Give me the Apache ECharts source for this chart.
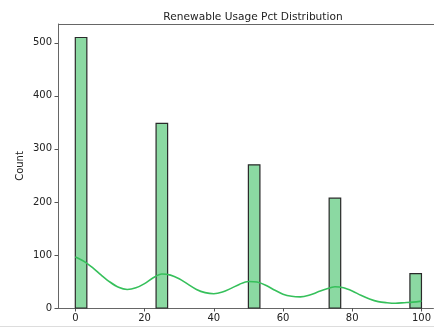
<!DOCTYPE html>
<html>
<head>
<meta charset="utf-8">
<script src="https://cdn.jsdelivr.net/npm/echarts@6/dist/echarts.min.js"></script>
<style>html,body{margin:0;padding:0;background:#fff}#c{width:434px;height:329px}</style>
</head>
<body>
<div id="c"></div>
<script>
// Histogram bins (left edge, right edge, count)
var binLeft = [0, 23.333, 50, 73.333, 96.667];
var binRight = [3.333, 26.667, 53.333, 76.667, 100];
var counts = [510, 348, 270, 207, 65];
// KDE curve
var kdeX = [0, 2.5, 5, 7.5, 10, 12.5, 15, 17.5, 20, 22.5, 25, 27.5, 30, 32.5, 35, 37.5, 40, 42.5, 45, 47.5, 50, 52.5, 55, 57.5, 60, 62.5, 65, 67.5, 70, 72.5, 75, 77.5, 80, 82.5, 85, 87.5, 90, 92.5, 95, 97.5, 100];
var kdeY = [96, 88, 76, 62, 49, 39, 35, 38, 46, 57, 64, 62, 55, 45, 35, 29, 27, 30, 37, 45, 50, 49, 43, 34, 26, 22, 21, 24, 30, 36, 40, 38, 32, 24, 17, 12, 10, 9, 10, 11, 13];
var xTicks = [0, 20, 40, 60, 80, 100];
var yTicks = [0, 100, 200, 300, 400, 500];

var chart = echarts.init(document.getElementById('c'), null, {renderer: 'canvas'});
var barData = binLeft.map(function (l, i) { return [l, binRight[i], counts[i]]; });
var kdeData = kdeX.map(function (x, i) { return [x, kdeY[i]]; });
var font = 'DejaVu Sans';
chart.setOption({
  animation: false,
  title: {
    text: 'Renewable Usage Pct Distribution',
    left: 248, top: 7, textAlign: 'center',
    textStyle: {fontFamily: font, fontSize: 10.6, fontWeight: 'normal', color: '#222'}
  },
  grid: {left: 58, right: 0, top: 24, bottom: 21},
  xAxis: {
    type: 'value', min: -5, max: 103.46,
    splitLine: {show: false},
    axisLine: {show: true, onZero: false, lineStyle: {color: '#666', width: 1}},
    axisTick: {show: true, length: 3.5, customValues: xTicks, lineStyle: {color: '#555'}},
    axisLabel: {customValues: xTicks, fontFamily: font, fontSize: 10, color: '#222', margin: 5}
  },
  yAxis: {
    type: 'value', min: 0, max: 535.5,
    name: 'Count', nameLocation: 'middle', nameGap: 33, nameRotate: 90,
    nameMoveOverlap: false,
    nameTextStyle: {fontFamily: font, fontSize: 10, color: '#222'},
    splitLine: {show: false},
    axisLine: {show: true, onZero: false, lineStyle: {color: '#666', width: 1}},
    axisTick: {show: true, length: 3.5, customValues: yTicks, lineStyle: {color: '#555'}},
    axisLabel: {customValues: yTicks, fontFamily: font, fontSize: 10, color: '#222', margin: 6}
  },
  series: [{
    type: 'custom',
    data: barData,
    renderItem: function (params, api) {
      var p0 = api.coord([api.value(0), api.value(2)]);
      var p1 = api.coord([api.value(1), 0]);
      return {
        type: 'rect',
        shape: {x: p0[0], y: p0[1], width: p1[0] - p0[0], height: p1[1] - p0[1]},
        style: {fill: '#8bd9a2', stroke: '#2a2a2a', lineWidth: 1.2}
      };
    },
    z: 2
  }, {
    type: 'line',
    data: kdeData,
    smooth: 0.3,
    showSymbol: false,
    lineStyle: {color: '#36c05b', width: 1.6},
    z: 3
  }],
  graphic: [{
    type: 'line',
    shape: {x1: 58, y1: 24.5, x2: 434, y2: 24.5},
    style: {stroke: '#666', lineWidth: 1}
  }, {
    type: 'line',
    shape: {x1: 0, y1: 326.5, x2: 434, y2: 326.5},
    style: {stroke: '#ddd', lineWidth: 1}
  }]
});
</script>
</body>
</html>
